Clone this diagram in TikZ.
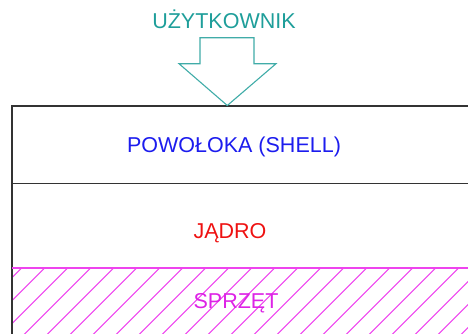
\documentclass[tikz,border=0pt]{standalone}
\usepackage{fontspec}
\setmainfont{Liberation Sans}
\definecolor{userteal}{HTML}{1E9E9A}
\definecolor{arrowteal}{HTML}{40ACA8}
\definecolor{shellblue}{HTML}{1C1CEE}
\definecolor{kernelred}{HTML}{EE1111}
\definecolor{hwmagenta}{HTML}{DD22E6}
\definecolor{hatchmagenta}{HTML}{EE44EE}
\definecolor{framegray}{HTML}{333333}
\begin{document}
\begin{tikzpicture}[x=1pt,y=-1pt,
  layertext/.style={font=\fontsize{21.5}{25}\selectfont, inner sep=0pt, anchor=base},
  frameline/.style={draw=framegray, line width=1.5pt},
  hatchline/.style={draw=hatchmagenta, line width=1.1pt},
  userarrow/.style={draw=arrowteal, line width=1.1pt, fill=white, line join=miter}]
  \useasboundingbox (0,0) rectangle (468,333);

  % layer stack
  \draw[frameline] (476,106) -- (12,106) -- (12,340);
  \draw[frameline] (12,183.7) -- (476,183.7);

  % hardware layer hatching
  \begin{scope}
    \clip (12,268) rectangle (476,340);
    \foreach \k in {0,...,24} {
      \draw[hatchline] ({21.7+23*\k},268) -- ({21.7+23*\k-100},368);
    }
  \end{scope}
  \draw[frameline] (12,268) -- (12,340);
  \draw[hatchline] (12,268) -- (476,268);

  % user arrow
  \draw[userarrow] (200,37.7) -- (254,37.7) -- (254,63.7) -- (276,63.7)
    -- (227.3,105.5) -- (179,63.7) -- (200,63.7) -- cycle;

  % labels
  \node[layertext, text=userteal] (user) at (224,28) {UŻYTKOWNIK};
  \node[layertext, text=shellblue] (shell) at (234,152) {POWOŁOKA (SHELL)};
  \node[layertext, text=kernelred] (kernel) at (230,238) {JĄDRO};
  \node[layertext, text=hwmagenta] (hw) at (236,308) {SPRZĘT};
\end{tikzpicture}
\end{document}
